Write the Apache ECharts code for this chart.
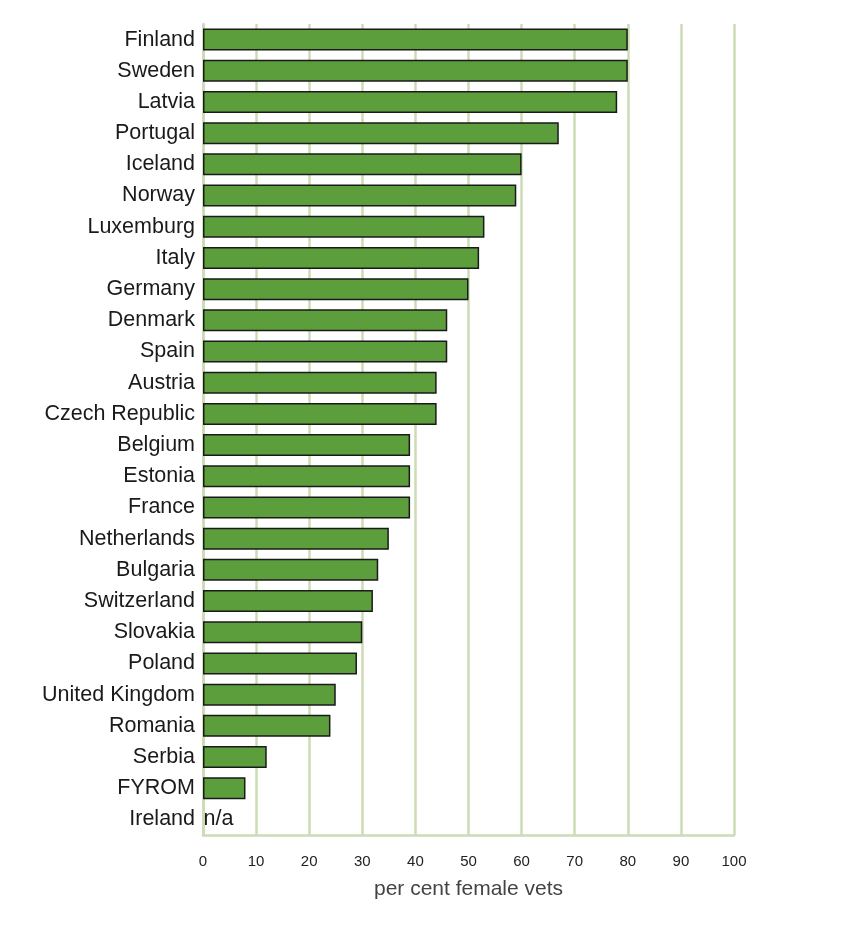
<!DOCTYPE html>
<html>
<head>
<meta charset="utf-8">
<script src="https://cdn.jsdelivr.net/npm/echarts@6/dist/echarts.min.js"></script>
<style>
  html, body { margin: 0; padding: 0; background: #fff; }
  #chart { width: 852px; height: 926px; }
</style>
</head>
<body>
<div id="chart"></div>
<script>
// countries top to bottom, as in the picture
var countries = ['Finland', 'Sweden', 'Latvia', 'Portugal', 'Iceland', 'Norway', 'Luxemburg',
  'Italy', 'Germany', 'Denmark', 'Spain', 'Austria', 'Czech Republic', 'Belgium', 'Estonia',
  'France', 'Netherlands', 'Bulgaria', 'Switzerland', 'Slovakia', 'Poland', 'United Kingdom',
  'Romania', 'Serbia', 'FYROM', 'Ireland'];
// per cent female vets (null = n/a)
var femaleShare = [80, 80, 78, 67, 60, 59, 53, 52, 50, 46, 46, 44, 44, 39, 39, 39, 35, 33, 32,
  30, 29, 25, 24, 12, 8, null];
var xTicks = [0, 10, 20, 30, 40, 50, 60, 70, 80, 90, 100];

var chart = echarts.init(document.getElementById('chart'));

var gridColor = '#cbdcb5';
var font = 'Liberation Sans, Arial, sans-serif';

var option = {
  animation: false,
  grid: { left: 203, right: 118, top: 24, bottom: 91, containLabel: false },
  xAxis: {
    type: 'value',
    min: xTicks[0],
    max: xTicks[xTicks.length - 1],
    interval: 10,
    position: 'bottom',
    axisLine: { show: true, lineStyle: { color: gridColor, width: 2.5 } },
    axisTick: { show: false },
    splitLine: { show: true, lineStyle: { color: gridColor, width: 2.5 } },
    axisLabel: { color: '#222', fontSize: 15, fontFamily: font, margin: 19 },
    name: 'per cent female vets',
    nameLocation: 'middle',
    nameGap: 44,
    nameTextStyle: { color: '#444', fontSize: 21, fontFamily: font }
  },
  yAxis: {
    type: 'category',
    inverse: true,
    data: countries,
    axisLine: { show: true, lineStyle: { color: gridColor, width: 2.5 } },
    axisTick: { show: false },
    axisLabel: {
      color: '#1a1a1a', fontSize: 21.5, fontFamily: font, margin: 8,
      padding: [4, 0, 0, 0]
    }
  },
  series: [{
    type: 'bar',
    data: femaleShare.map(function (v) { return v === null ? '-' : v; }),
    barWidth: 22,
    itemStyle: { color: '#5c9e3c', borderColor: '#1a1a1a', borderWidth: 1.5 },
    label: { show: false },
    markPoint: {
      symbol: 'rect',
      symbolSize: 1,
      itemStyle: { color: 'transparent' },
      label: {
        show: true, formatter: 'n/a', color: '#1a1a1a', fontSize: 21.5,
        fontFamily: font, position: 'right', distance: 0, padding: [4, 0, 0, 0]
      },
      data: [{ coord: [0, countries[countries.length - 1]] }]
    }
  }]
};

chart.setOption(option);
</script>
</body>
</html>
